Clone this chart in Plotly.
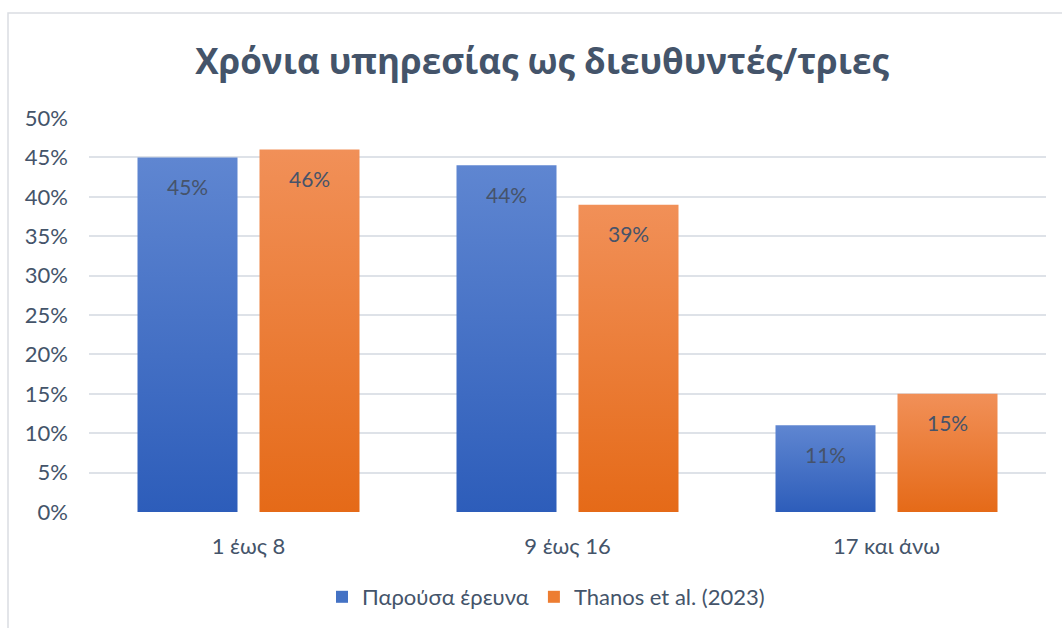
import plotly.graph_objects as go

# Survey data: years of service as school principals
categories = ["1 έως 8", "9 έως 16", "17 και άνω"]
series_names = ["Παρούσα έρευνα", "Thanos et al. (2023)"]
current_survey = [0.45, 0.44, 0.11]
thanos_2023 = [0.46, 0.39, 0.15]
y_ticks = [0, 0.05, 0.10, 0.15, 0.20, 0.25, 0.30, 0.35, 0.40, 0.45, 0.50]

# Styling: gradient stops (top -> bottom) per series, and bar geometry
series_values = [current_survey, thanos_2023]
gradients = [("#5F86D1", "#2D5DBA"), ("#F19058", "#E56A18")]
legend_colors = ["#4472C4", "#ED7D31"]
SLOT = 0.3824          # width of one series slot within a category
BAR = 0.3135           # drawn bar width
TEXT = "#44546A"

fig = go.Figure()

n_series = len(series_values)
for s, (vals, (c_top, c_bot)) in enumerate(zip(series_values, gradients)):
    offset = (s - (n_series - 1) / 2) * SLOT
    for i, v in enumerate(vals):
        xc = i + offset
        x0, x1 = xc - BAR / 2, xc + BAR / 2
        fig.add_trace(go.Scatter(
            x=[x0, x1, x1, x0, x0],
            y=[0, 0, v, v, 0],
            mode="lines",
            line=dict(width=0),
            fill="toself",
            fillgradient=dict(
                type="vertical",
                colorscale=[[0, c_bot], [1, c_top]],
                start=0, stop=v,
            ),
            hoverinfo="text",
            text=f"{series_names[s]}: {v:.0%}",
            showlegend=False,
        ))
        fig.add_annotation(
            x=xc, y=v, text=f"{v:.0%}",
            showarrow=False, yanchor="middle", yshift=-29,
            font=dict(family="Lato", size=21, color="#46536A"),
        )
    # legend entry
    fig.add_trace(go.Scatter(
        x=[None], y=[None], mode="markers", name=series_names[s],
        marker=dict(symbol="square", size=12, color=legend_colors[s]),
    ))

# chart frame
fig.add_shape(
    type="rect", xref="paper", yref="paper",
    x0=(8 - 89) / 957, x1=(1075 - 89) / 957,
    y0=(512 - 640) / 394, y1=(512 - 13) / 394,
    line=dict(color="#DADDE2", width=1.5), fillcolor="rgba(0,0,0,0)", layer="below",
)

fig.update_layout(
    width=1062, height=628,
    margin=dict(l=89, r=16, t=118, b=116),
    paper_bgcolor="white", plot_bgcolor="white",
    title=dict(
        text="<b>Χρόνια υπηρεσίας ως διευθυντές/τριες</b>",
        x=542 / 1062, xanchor="center", y=1 - 62 / 628, yanchor="middle",
        font=dict(family="Open Sans", size=35, color=TEXT),
    ),
    xaxis=dict(
        range=[-0.5, len(categories) - 0.5],
        tickvals=list(range(len(categories))), ticktext=categories,
        showgrid=False, zeroline=False, showline=False, ticks="",
        ticklabelstandoff=19,
        tickfont=dict(family="Lato", size=22, color=TEXT),
        fixedrange=True,
    ),
    yaxis=dict(
        range=[0, 0.5], tickvals=y_ticks, tickformat=".0%",
        showgrid=True, gridcolor="#DEE2E8", gridwidth=1.5,
        zeroline=False, showline=False, ticks="",
        ticklabelstandoff=20,
        tickfont=dict(family="Lato", size=22, color=TEXT),
        fixedrange=True,
    ),
    legend=dict(
        orientation="h", x=546 / 1062, xref="container", xanchor="center",
        y=1 - 597 / 628, yref="container", yanchor="middle",
        font=dict(family="Lato", size=22, color=TEXT),
        itemclick=False, itemdoubleclick=False,
    ),
    showlegend=True,
)

fig.write_html("out.html")
